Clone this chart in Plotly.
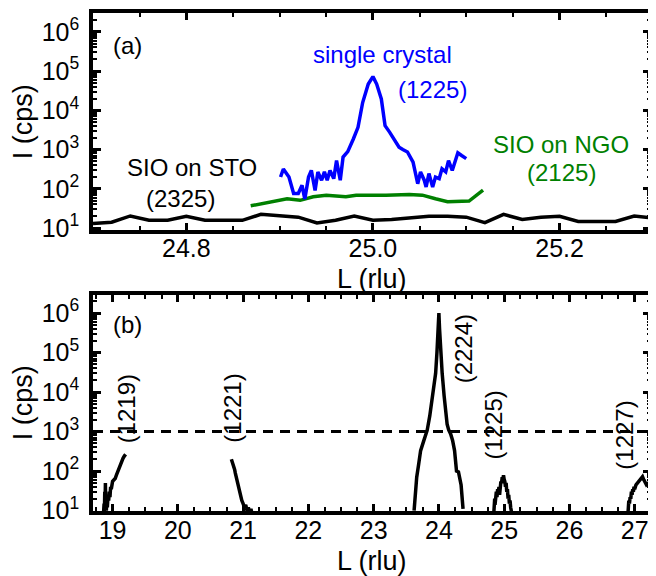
import plotly.graph_objects as go

# ---------------- panel (a) data ----------------
L_sto = [24.70, 24.72, 24.74, 24.76, 24.78, 24.80, 24.82, 24.84, 24.86, 24.88,
         24.90, 24.92, 24.94, 24.96, 24.98, 25.00, 25.02, 25.04, 25.06, 25.08,
         25.10, 25.12, 25.14, 25.16, 25.18, 25.20, 25.22, 25.24, 25.26, 25.28, 25.30]
I_sto = [13.2, 14.1, 20.4, 15.8, 15.8, 20.0, 15.8, 15.8, 15.8, 22.4,
         20.4, 19.0, 13.5, 15.8, 20.4, 15.8, 16.6, 18.6, 20.0, 20.0,
         19.0, 13.8, 22.4, 16.6, 19.0, 20.0, 14.8, 14.8, 14.8, 20.4, 18.2]

L_sc = [24.901, 24.904, 24.910, 24.915, 24.920, 24.924, 24.927, 24.931, 24.934, 24.938,
        24.941, 24.945, 24.948, 24.951, 24.954, 24.958, 24.961, 24.965, 24.968, 24.973,
        24.979, 24.984, 24.989, 24.995, 25.000, 25.004, 25.009, 25.013, 25.018, 25.023,
        25.028, 25.032, 25.037, 25.043, 25.048, 25.051, 25.055, 25.057, 25.060, 25.064,
        25.067, 25.071, 25.074, 25.078, 25.081, 25.085, 25.091, 25.095, 25.100]
I_sc = [200, 320, 200, 76, 76, 123, 55, 200, 295, 91,
        270, 166, 270, 166, 295, 182, 525, 166, 645, 890,
        1860, 3700, 15800, 46800, 72400, 46800, 19500, 4070, 2750, 1860,
        1150, 1000, 870, 480, 135, 270, 166, 112, 245, 112,
        200, 182, 325, 270, 525, 295, 830, 710, 590]

L_ngo = [24.869, 24.890, 24.908, 24.922, 24.936, 24.950, 24.971, 24.982, 25.000,
         25.014, 25.039, 25.053, 25.067, 25.080, 25.103, 25.118]
I_ngo = [37, 47, 56, 51, 63, 69, 63, 69, 68, 69, 72, 69, 56, 47, 49, 93]

# ---------------- panel (b) data ----------------
L_1219 = [18.86, 18.87, 18.875, 18.88, 18.885, 18.89, 18.895, 18.90, 18.905, 18.91,
          18.92, 18.93, 18.94, 18.95, 18.96, 18.97, 18.98, 19.00, 19.02, 19.04,
          19.06, 19.08, 19.10, 19.12, 19.14, 19.16, 19.18, 19.20]
I_1219 = [8, 15, 9, 30, 12, 50, 14, 25, 10, 20,
          12, 25, 18, 30, 22, 40, 35, 55, 60, 65,
          80, 100, 125, 150, 185, 210, 240, 265]

L_1221 = [20.82, 20.83, 20.84, 20.85, 20.86, 20.87, 20.88, 20.89, 20.90, 20.91,
          20.92, 20.93, 20.94, 20.95, 20.96, 20.98, 21.00, 21.02, 21.04, 21.06,
          21.08, 21.10, 21.12, 21.14]
I_1221 = [200, 180, 160, 150, 130, 110, 90, 75, 62, 52,
          44, 36, 30, 26, 22, 18, 15, 12, 14, 10,
          12, 9, 11, 8]

L_2224 = [23.62, 23.64, 23.66, 23.69, 23.72, 23.77, 23.82, 23.86, 23.90, 23.93,
          23.95, 23.97, 23.99, 24.00, 24.01, 24.03, 24.05, 24.08, 24.10, 24.126,
          24.15, 24.18, 24.21, 24.24, 24.27, 24.30, 24.34, 24.37]
I_2224 = [10, 40, 70, 150, 330, 600, 1070, 2500, 8000, 20000,
          30000, 100000, 400000, 1000000, 400000, 100000, 30000, 8000, 3000, 1550,
          1100, 870, 600, 330, 100, 95, 45, 11]

L_1225 = [24.84, 24.85, 24.855, 24.86, 24.87, 24.88, 24.89, 24.90, 24.91, 24.92,
          24.93, 24.94, 24.95, 24.96, 24.97, 24.98, 24.99, 25.00, 25.01, 25.02,
          25.03, 25.04, 25.05, 25.06, 25.07, 25.08, 25.09, 25.10, 25.11, 25.12]
I_1225 = [8, 12, 20, 14, 25, 30, 22, 35, 28, 40,
          25, 45, 55, 50, 70, 60, 78, 62, 55, 40,
          50, 30, 35, 20, 25, 15, 18, 12, 10, 8]

L_1227 = [26.89, 26.90, 26.91, 26.92, 26.93, 26.94, 26.95, 26.96, 26.97, 26.98,
          26.99, 27.00, 27.02, 27.04, 27.06, 27.08, 27.10, 27.12, 27.14, 27.16,
          27.18, 27.20, 27.24]
I_1227 = [8, 10, 18, 15, 22, 20, 30, 25, 35, 30,
          40, 35, 45, 50, 55, 60, 65, 72, 60, 50,
          45, 48, 40]

threshold = 1000

y_tickvals = [10, 100, 1000, 10000, 100000, 1000000]
y_ticktext = ["10<sup>1</sup>", "10<sup>2</sup>", "10<sup>3</sup>",
              "10<sup>4</sup>", "10<sup>5</sup>", "10<sup>6</sup>"]
xa_ticks = [24.8, 25.0, 25.2]
xa_text = ["24.8", "25.0", "25.2"]
xb_ticks = [19, 20, 21, 22, 23, 24, 25, 26, 27]

BLUE = "#0000ff"
GREEN = "#008000"
FONT = "Liberation Sans, Arial, sans-serif"
LW = 3.5

fig = go.Figure()
fig.add_trace(go.Scatter(x=L_sto, y=I_sto, mode="lines", line=dict(color="black", width=LW),
                         xaxis="x", yaxis="y"))
fig.add_trace(go.Scatter(x=L_ngo, y=I_ngo, mode="lines", line=dict(color=GREEN, width=LW),
                         xaxis="x", yaxis="y"))
fig.add_trace(go.Scatter(x=L_sc, y=I_sc, mode="lines", line=dict(color=BLUE, width=LW),
                         xaxis="x", yaxis="y"))

for Lx, Iy in [(L_1219, I_1219), (L_1221, I_1221), (L_2224, I_2224),
               (L_1225, I_1225), (L_1227, I_1227)]:
    fig.add_trace(go.Scatter(x=Lx, y=Iy, mode="lines", line=dict(color="black", width=LW),
                             xaxis="x2", yaxis="y2"))

fig.add_trace(go.Scatter(x=[18.7, 27.25], y=[threshold, threshold], mode="lines",
                         line=dict(color="black", width=3, dash="10px,7px"),
                         xaxis="x2", yaxis="y2"))

common_x = dict(showline=True, linecolor="black", linewidth=3.5, mirror="ticks",
                ticks="inside", ticklen=7, tickwidth=2.5, tickcolor="black",
                showgrid=False, zeroline=False, ticklabelstandoff=-6,
                tickfont=dict(family=FONT, size=25, color="black"))
common_y = dict(type="log", showline=True, linecolor="black", linewidth=3.5, mirror="ticks",
                ticks="inside", ticklen=8, tickwidth=2.5, tickcolor="black",
                showgrid=False, zeroline=False, tickvals=y_tickvals, ticktext=y_ticktext,
                ticklabelstandoff=5,
                minor=dict(ticks="inside", ticklen=4, tickwidth=2, tickcolor="black",
                           dtick="D1", showgrid=False),
                tickfont=dict(family=FONT, size=25, color="black"))

# the page body has an 8px margin, so the figure is 8px smaller than the window
fig.update_layout(
    width=648, height=568,
    margin=dict(l=85, r=1, t=2, b=65),
    plot_bgcolor="white", paper_bgcolor="white",
    showlegend=False,
    font=dict(family=FONT, color="black"),
    xaxis=dict(domain=[0, 1], anchor="y", range=[24.7, 25.298],
               tickvals=xa_ticks, ticktext=xa_text,
               minor=dict(ticks="inside", ticklen=4, tickwidth=2, tickcolor="black",
                          dtick=0.05, tick0=24.7),
               **common_x),
    yaxis=dict(domain=[0.5649, 1], anchor="x", range=[0.96, 6.48], **common_y),
    xaxis2=dict(domain=[0, 1], anchor="y2", range=[18.7, 27.25],
                tickvals=xb_ticks,
                minor=dict(ticks="inside", ticklen=4, tickwidth=2, tickcolor="black",
                           dtick=0.25, tick0=18.75),
                **common_x),
    yaxis2=dict(domain=[0, 0.4331], anchor="x2", range=[0.99, 6.45], **common_y),
)

def ann(text, x, y, size=24, color="black", angle=0):
    fig.add_annotation(text=text, x=x, y=y, xref="paper", yref="paper",
                       showarrow=False, textangle=angle,
                       font=dict(family=FONT, size=size, color=color),
                       xanchor="center", yanchor="middle")

# axis titles
ann("I (cps)", -0.126, 0.782, size=27, angle=-90)
ann("I (cps)", -0.126, 0.2176, size=27, angle=-90)
ann("L (rlu)", 0.5, 0.465, size=27)
ann("L (rlu)", 0.5, -0.0998, size=27)

# panel (a) labels
ann("(a)", 0.0623, 0.934)
ann("single crystal", 0.518, 0.916, color=BLUE)
ann("(1225)", 0.6085, 0.846, color=BLUE)
ann("SIO on NGO", 0.838, 0.7365, color=GREEN)
ann("(2125)", 0.84, 0.6806, color=GREEN)
ann("SIO on STO", 0.178, 0.6906)
ann("(2325)", 0.1566, 0.6267)

# panel (b) labels
ann("(b)", 0.0623, 0.375)
ann("(1219)", 0.0605, 0.2056, angle=-90)
ann("(1221)", 0.251, 0.2056, angle=-90)
ann("(2224)", 0.6637, 0.3253, angle=-90)
ann("(1225)", 0.717, 0.1717, angle=-90)
ann("(1227)", 0.952, 0.1517, angle=-90)

fig.write_html("out.html")
